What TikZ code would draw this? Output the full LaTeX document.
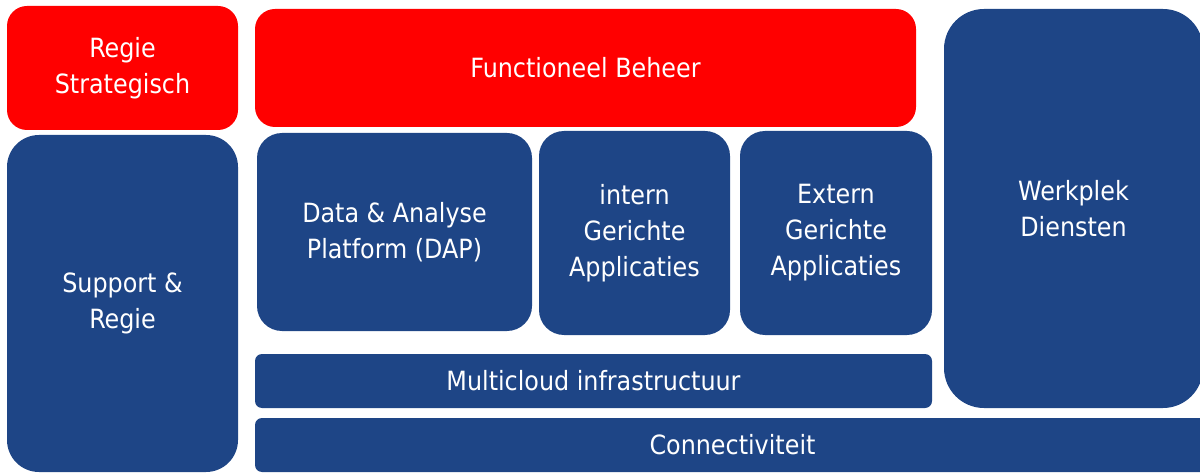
\documentclass[tikz,border=0pt]{standalone}
\usepackage{fontspec}
\setmainfont{DejaVu Sans Condensed}
\definecolor{regiered}{RGB}{255,0,0}
\definecolor{beheerblue}{RGB}{30,69,134}

\begin{document}
\begin{tikzpicture}[
    x=1pt, y=-1pt,
    blok/.style={rectangle, inner sep=0pt, align=center, text=white, font=\fontsize{26.5}{36}\selectfont},
    rood/.style={blok, fill=regiered, rounded corners=20pt},
    blauw/.style={blok, fill=beheerblue, rounded corners=25pt},
    balk/.style={blok, fill=beheerblue, rounded corners=7pt}
]
\useasboundingbox (0,0) rectangle (1200,473);

% Top row: regie en beheer
\node[rood, minimum width=231pt, minimum height=124pt] (regie) at (122.5,68) {Regie\\Strategisch};
\node[rood, minimum width=661pt, minimum height=118pt] (beheer) at (585.5,68) {Functioneel Beheer};

% Right and left columns
\node[blauw, rounded corners=40pt, minimum width=259pt, minimum height=399pt] (werkplek) at (1073.5,208.5) {Werkplek\\Diensten};
\node[blauw, rounded corners=32pt, minimum width=231pt, minimum height=337pt] (support) at (122.5,303.5) {Support \&\\Regie};

% Middle row: applicaties
\node[blauw, minimum width=275pt, minimum height=198pt] (dap) at (394.5,232) {Data \& Analyse\\Platform (DAP)};
\node[blauw, minimum width=191pt, minimum height=204pt] (intern) at (634.5,233) {intern\\Gerichte\\Applicaties};
\node[blauw, minimum width=192pt, minimum height=204pt] (extern) at (836,233) {Extern\\Gerichte\\Applicaties};

% Bottom bars
\node[balk, minimum width=677pt, minimum height=54pt] (multicloud) at (593.5,381) {Multicloud infrastructuur};
\node[balk, minimum width=955pt, minimum height=54pt] (connect) at (732.5,445) {Connectiviteit};

\end{tikzpicture}
\end{document}
